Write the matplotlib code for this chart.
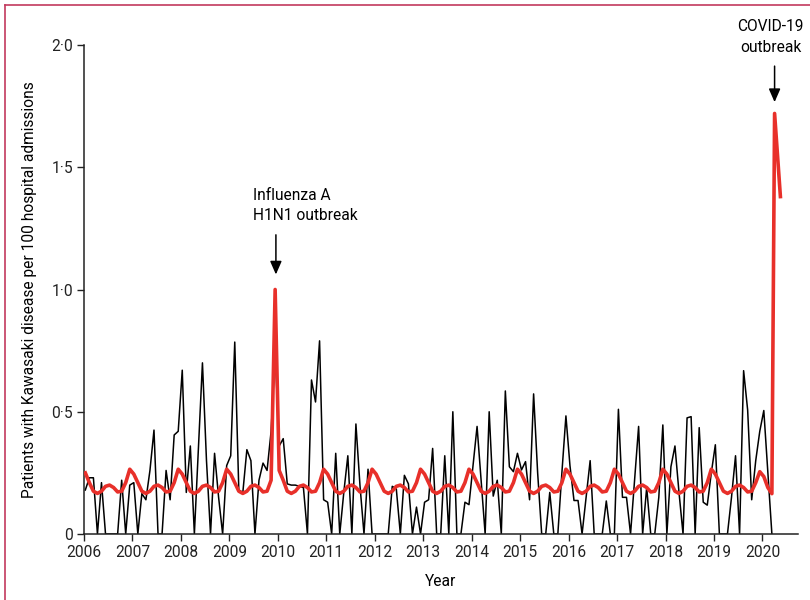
import numpy as np
import matplotlib
matplotlib.use('Agg')
from matplotlib import pyplot as plt
from matplotlib.lines import Line2D

plt.rcParams['font.family'] = ['Roboto', 'DejaVu Sans']

# monthly Kawasaki rate, Jan 2006 .. Mar 2020 (per 100 admissions)
observed = [
    0.18, 0.23, 0.23, 0, 0.21, 0, 0, 0, 0, 0.22, 0, 0.20,              # 2006
    0.21, 0, 0.165, 0.14, 0.26, 0.425, 0, 0, 0.26, 0.14, 0.405, 0.42,   # 2007
    0.67, 0.17, 0.36, 0, 0.35, 0.70, 0.30, 0, 0.33, 0.15, 0, 0.28,      # 2008
    0.32, 0.785, 0.18, 0.17, 0.345, 0.30, 0, 0.22, 0.29, 0.26, 0.42, 0.75,  # 2009
    0.36, 0.39, 0.205, 0.20, 0.20, 0.195, 0.19, 0, 0.63, 0.54, 0.79, 0.14,  # 2010
    0.13, 0, 0.33, 0, 0.17, 0.32, 0, 0.45, 0.20, 0, 0.265, 0,           # 2011
    0, 0, 0, 0, 0.195, 0.185, 0, 0.24, 0.205, 0, 0.11, 0,               # 2012
    0.13, 0.14, 0.35, 0, 0, 0.32, 0, 0.50, 0, 0, 0.13, 0.12,            # 2013
    0.28, 0.44, 0.22, 0, 0.50, 0.155, 0.22, 0, 0.585, 0.275, 0.255, 0.33,  # 2014
    0.262, 0.296, 0.14, 0.573, 0.25, 0, 0, 0.17, 0, 0, 0.25, 0.483,     # 2015
    0.28, 0.137, 0.137, 0, 0.15, 0.30, 0, 0, 0, 0.135, 0, 0,            # 2016
    0.51, 0.15, 0.15, 0, 0.22, 0.44, 0, 0.19, 0, 0, 0.15, 0.446,        # 2017
    0, 0.275, 0.36, 0.17, 0, 0.475, 0.48, 0, 0.435, 0.13, 0.118, 0.25,  # 2018
    0.365, 0, 0, 0, 0.15, 0.32, 0, 0.668, 0.507, 0.14, 0.30, 0.42,      # 2019
    0.505, 0.25, 0,                                                     # 2020
]

# fitted model (red), same months
fitted = [
    0.25, 0.21, 0.175, 0.166, 0.175, 0.195, 0.20, 0.19, 0.172, 0.175, 0.21, 0.265,   # 2006
    0.245, 0.21, 0.175, 0.166, 0.175, 0.195, 0.20, 0.19, 0.172, 0.175, 0.21, 0.265,  # 2007
    0.245, 0.21, 0.175, 0.166, 0.175, 0.195, 0.20, 0.19, 0.172, 0.175, 0.21, 0.265,  # 2008
    0.245, 0.21, 0.175, 0.166, 0.175, 0.195, 0.20, 0.19, 0.172, 0.175, 0.22, 1.00,   # 2009
    0.26, 0.22, 0.175, 0.166, 0.175, 0.195, 0.20, 0.19, 0.172, 0.175, 0.21, 0.265,   # 2010
    0.245, 0.21, 0.175, 0.166, 0.175, 0.195, 0.20, 0.19, 0.172, 0.175, 0.21, 0.265,  # 2011
    0.245, 0.21, 0.175, 0.166, 0.175, 0.195, 0.20, 0.19, 0.172, 0.175, 0.21, 0.265,  # 2012
    0.245, 0.21, 0.175, 0.166, 0.175, 0.195, 0.20, 0.19, 0.172, 0.175, 0.21, 0.265,  # 2013
    0.245, 0.21, 0.175, 0.166, 0.175, 0.195, 0.20, 0.19, 0.172, 0.175, 0.21, 0.265,  # 2014
    0.245, 0.21, 0.175, 0.166, 0.175, 0.195, 0.20, 0.19, 0.172, 0.175, 0.21, 0.265,  # 2015
    0.245, 0.21, 0.175, 0.166, 0.175, 0.195, 0.20, 0.19, 0.172, 0.175, 0.21, 0.265,  # 2016
    0.245, 0.21, 0.175, 0.166, 0.175, 0.195, 0.20, 0.19, 0.172, 0.175, 0.21, 0.265,  # 2017
    0.245, 0.21, 0.175, 0.166, 0.175, 0.195, 0.20, 0.19, 0.172, 0.175, 0.21, 0.265,  # 2018
    0.245, 0.21, 0.175, 0.166, 0.175, 0.195, 0.20, 0.19, 0.172, 0.175, 0.21, 0.255,  # 2019
    0.235, 0.19, 0.165,                                                              # 2020
]
# fitted tail during the COVID-19 outbreak
covid_t = [2020.25, 2020.37]
covid_v = [1.72, 1.38]

years = list(range(2006, 2021))
yticks = [0, 0.5, 1.0, 1.5, 2.0]
ytick_labels = ['0', '0·5', '1·0', '1·5', '2·0']

t = 2006 + (np.arange(len(observed)) + 0.33) / 12

fig = plt.figure(figsize=(8.1, 6), dpi=100)
ax = fig.add_axes([0.1037, 0.11, 0.8813, 0.815])

ax.plot(t, observed, color='black', lw=1.1, zorder=2)
ax.plot(list(t) + covid_t, fitted + covid_v, color='#e8302a', lw=2.6,
        solid_joinstyle='round', zorder=3)

ax.set_xlim(2006, 2020.73)
ax.set_ylim(0, 2.0)
ax.set_xticks(years)
ax.set_xticklabels([str(y) for y in years], fontsize=11.2)
ax.set_yticks(yticks)
ax.set_yticklabels(ytick_labels, fontsize=11.2)
ax.tick_params(direction='out', length=5, width=1, colors='#222222', pad=3)
for s in ['top', 'right']:
    ax.spines[s].set_visible(False)
for s in ['left', 'bottom']:
    ax.spines[s].set_linewidth(1.1)
    ax.spines[s].set_color('#222222')

ax.set_xlabel('Year', fontsize=11.2, labelpad=10)
ax.set_ylabel('Patients with Kawasaki disease per 100 hospital admissions',
              fontsize=11.2, labelpad=10)

arrow = dict(arrowstyle='-|>,head_width=0.35,head_length=0.8', color='black', lw=1.1)
ax.annotate('', xy=(2009.96, 1.05), xytext=(2009.96, 1.235), arrowprops=arrow)
ax.text(2009.49, 1.27, 'Influenza A\nH1N1 outbreak', ha='left', va='bottom',
        fontsize=11.2, linespacing=1.45)
ax.annotate('', xy=(2020.25, 1.755), xytext=(2020.25, 1.925), arrowprops=arrow,
            annotation_clip=False)
ax.text(2020.17, 1.96, 'COVID-19\noutbreak', ha='center', va='bottom',
        fontsize=11.2, linespacing=1.45, clip_on=False)

# page frame lines at top and left
border = '#c23a5e'
fig.add_artist(Line2D([5 / 810, 1], [1 - 5 / 600, 1 - 5 / 600], color=border, lw=1.2))
fig.add_artist(Line2D([5 / 810, 5 / 810], [0, 1 - 5 / 600], color=border, lw=1.2))

fig.savefig('out.png', dpi=100)
plt.close(fig)
